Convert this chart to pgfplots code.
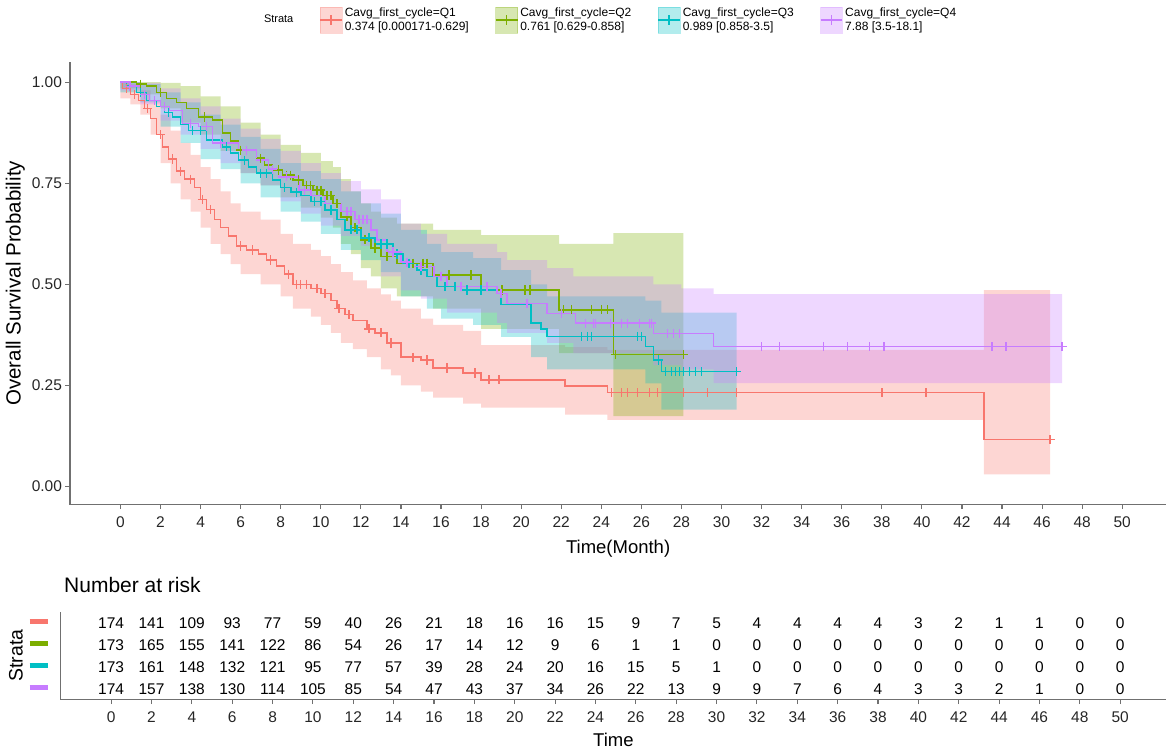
\documentclass[border=0pt]{standalone}
\usepackage{pgfplots}
\pgfplotsset{compat=1.18}
\usepackage{pgfplotstable}
\usepgfplotslibrary{fillbetween}
\usepackage{fontspec}
\setmainfont{Liberation Sans}
\definecolor{q1}{HTML}{F8766D}
\definecolor{q2}{HTML}{7CAE00}
\definecolor{q3}{HTML}{00BFC4}
\definecolor{q4}{HTML}{C77CFF}
\definecolor{axgray}{HTML}{707070}

% survival curves (step starts at t)
\pgfplotstableread{
t s
0 1.0
0.1 0.985
0.5 0.97
0.9 0.955
1.2 0.935
1.5 0.91
1.8 0.87
2.1 0.84
2.4 0.81
2.8 0.78
3.2 0.76
3.7 0.74
4.0 0.71
4.3 0.685
4.7 0.66
5.0 0.64
5.4 0.62
5.8 0.595
6.3 0.585
6.9 0.575
7.3 0.56
7.8 0.545
8.2 0.525
8.6 0.50
9.5 0.49
10.0 0.478
10.5 0.46
10.8 0.44
11.2 0.425
11.6 0.41
12.3 0.39
12.7 0.38
13.3 0.355
14.0 0.32
15.0 0.313
15.6 0.293
17.1 0.281
18.0 0.264
22.2 0.248
24.3 0.232
43.1 0.116
46.4 0.116
}\curveA
\pgfplotstableread{
t s
0 1.0
0.8 0.995
1.3 0.99
1.8 0.975
2.3 0.96
2.8 0.95
3.3 0.935
3.9 0.914
4.6 0.906
5.1 0.874
5.5 0.855
5.9 0.832
6.8 0.812
7.2 0.795
7.6 0.783
8.1 0.77
8.6 0.758
9.1 0.745
9.6 0.733
10.1 0.72
10.6 0.70
11.0 0.667
11.5 0.64
12.0 0.61
12.5 0.59
13.0 0.569
13.8 0.552
15.6 0.523
18.0 0.486
21.9 0.437
24.6 0.326
28.1 0.326
}\curveB
\pgfplotstableread{
t s
0 1.0
0.3 0.99
0.8 0.975
1.3 0.955
1.8 0.94
2.2 0.925
2.6 0.914
3.0 0.895
3.4 0.88
4.3 0.857
5.1 0.84
5.5 0.825
5.9 0.807
6.4 0.79
6.8 0.775
7.6 0.758
8.0 0.74
8.5 0.728
9.0 0.72
9.5 0.705
10.2 0.684
10.8 0.66
11.2 0.635
12.0 0.615
12.7 0.60
13.6 0.575
14.1 0.552
14.8 0.535
15.3 0.52
15.8 0.495
17.0 0.486
19.0 0.45
20.5 0.405
21.0 0.39
21.3 0.371
26.2 0.346
26.6 0.313
27.0 0.284
30.75 0.284
}\curveC
\pgfplotstableread{
t s
0 1.0
0.5 0.99
1.0 0.97
1.45 0.955
2.0 0.94
2.45 0.93
3.1 0.898
3.9 0.89
4.6 0.849
5.9 0.832
6.8 0.807
7.4 0.785
7.9 0.766
8.9 0.733
9.5 0.72
10.2 0.70
11.0 0.68
11.7 0.66
12.5 0.635
12.8 0.61
13.3 0.58
14.0 0.555
14.6 0.544
15.65 0.52
16.3 0.495
18.8 0.478
19.3 0.453
21.3 0.428
22.7 0.404
26.6 0.378
29.6 0.346
47.0 0.346
}\curveD

% confidence bands: t upper lower
\pgfplotstableread{
t u l
0 1.00 0.96
0.5 0.995 0.945
1 0.98 0.92
1.5 0.955 0.87
2 0.92 0.80
2.5 0.88 0.75
3 0.85 0.71
3.5 0.82 0.68
4 0.79 0.64
4.5 0.76 0.60
5 0.73 0.575
5.5 0.70 0.55
6 0.68 0.525
7 0.66 0.50
8 0.625 0.47
8.6 0.60 0.44
9.5 0.585 0.42
10 0.57 0.40
10.5 0.55 0.38
11 0.53 0.355
11.6 0.51 0.34
12.3 0.49 0.32
13 0.475 0.29
13.5 0.46 0.275
14 0.44 0.25
15 0.415 0.235
15.6 0.40 0.22
17.1 0.385 0.205
18 0.35 0.195
22.2 0.345 0.178
24.3 0.338 0.165
43.1 0.486 0.03
46.4 0.486 0.03
}\bandA
\pgfplotstableread{
t u l
0 1.0 0.985
1 1.0 0.97
2 0.998 0.935
3 0.99 0.90
4 0.965 0.87
5 0.94 0.83
6 0.90 0.775
7 0.87 0.745
8 0.845 0.715
9 0.825 0.69
10 0.805 0.665
10.6 0.79 0.64
11 0.76 0.60
11.5 0.73 0.575
12 0.70 0.54
12.5 0.68 0.52
13 0.665 0.49
13.8 0.65 0.47
15.6 0.635 0.44
18 0.622 0.39
21.9 0.60 0.33
24.6 0.627 0.174
28.1 0.627 0.174
}\bandB
\pgfplotstableread{
t u l
0 1.0 0.975
1 0.995 0.95
2 0.975 0.89
3 0.95 0.85
4 0.92 0.81
5 0.895 0.785
6 0.865 0.75
7 0.835 0.715
8 0.80 0.68
9 0.78 0.655
10 0.76 0.625
11 0.73 0.585
12 0.70 0.56
13 0.675 0.53
14 0.635 0.47
15.3 0.60 0.44
16 0.58 0.415
17.6 0.565 0.40
19 0.535 0.37
20.5 0.50 0.32
21.3 0.47 0.29
26.2 0.46 0.255
27 0.43 0.19
30.75 0.43 0.19
}\bandC
\pgfplotstableread{
t u l
0 1.0 0.98
1 0.998 0.945
2 0.985 0.905
3 0.96 0.87
4 0.94 0.835
5 0.91 0.80
6 0.885 0.775
7 0.86 0.745
8 0.83 0.705
9 0.80 0.675
10 0.775 0.645
11 0.755 0.62
12 0.735 0.595
13 0.71 0.52
14 0.65 0.485
15 0.625 0.465
16.3 0.60 0.43
18.8 0.58 0.405
19.3 0.56 0.38
21.3 0.54 0.355
22.6 0.52 0.33
26.6 0.50 0.30
28 0.49 0.29
29.6 0.476 0.256
47 0.476 0.256
}\bandD

% number at risk
\pgfplotstableread{
t q1 q2 q3 q4
0 174 173 173 174
2 141 165 161 157
4 109 155 148 138
6 93 141 132 130
8 77 122 121 114
10 59 86 95 105
12 40 54 77 85
14 26 26 57 54
16 21 17 39 47
18 18 14 28 43
20 16 12 24 37
22 16 9 20 34
24 15 6 16 26
26 9 1 15 22
28 7 1 5 13
30 5 0 1 9
32 4 0 0 9
34 4 0 0 7
36 4 0 0 6
38 4 0 0 4
40 3 0 0 3
42 2 0 0 3
44 1 0 0 2
46 1 0 0 1
48 0 0 0 0
50 0 0 0 0
}\risk

\pgfplotsset{
  km axis/.style={
    axis x line*=bottom, axis y line*=left,
    axis line style={axgray, line width=1.4pt},
    tick align=outside, major tick length=4.5pt,
    tick style={axgray, line width=1.1pt},
    /pgf/number format/assume math mode=true,
    ticklabel style={text=black!85, font=\fontsize{15.5}{18}\selectfont},
    xticklabel style={yshift=-4pt},
    clip=false,
  },
  band/.style={const plot, draw=none, forget plot},
  curve/.style={const plot, line width=1.5pt, forget plot, #1},
  cens/.style={only marks, mark=+, mark size=4.6pt, forget plot, #1, mark options={line width=1.4pt}},
  key/.style={legend image code/.code={
    \fill[#1, opacity=0.3] (0pt,-13pt) rectangle (22pt,13pt);
    \draw[#1, line width=1.5pt] (0pt,0pt) -- (22pt,0pt) (11pt,-5pt) -- (11pt,5pt);}},
}

\begin{document}
\begin{tikzpicture}

\begin{axis}[
  km axis,
  at={(70pt,-505pt)}, anchor=south west,
  scale only axis, width=1097pt, height=443pt,
  xmin=-2.52, xmax=52.2, ymin=-0.045, ymax=1.05,
  xtick={0,2,...,50},
  ytick={0,0.25,0.5,0.75,1},
  yticklabels={0.00,0.25,0.50,0.75,1.00},
  xlabel={Time(Month)},
  ylabel={Overall Survival Probability},
  xlabel style={font=\fontsize{18.5}{22}\selectfont, yshift=-6pt},
  ylabel style={font=\fontsize{20.5}{22}\selectfont},
  legend columns=5,
  legend style={at={(0.175,1.095)}, anchor=west, draw=none, fill=none,
    inner sep=0pt, font=\fontsize{12}{15}\selectfont,
    cells={align=left},
    /tikz/every even column/.append style={column sep=24pt}},
]
% confidence bands
\addplot[band, name path=au] table[x=t, y=u] {\bandA};
\addplot[band, name path=al] table[x=t, y=l] {\bandA};
\addplot[band, name path=bu] table[x=t, y=u] {\bandB};
\addplot[band, name path=bl] table[x=t, y=l] {\bandB};
\addplot[band, name path=cu] table[x=t, y=u] {\bandC};
\addplot[band, name path=cl] table[x=t, y=l] {\bandC};
\addplot[band, name path=du] table[x=t, y=u] {\bandD};
\addplot[band, name path=dl] table[x=t, y=l] {\bandD};
\addplot[fill=q1, fill opacity=0.3, draw=none, forget plot] fill between[of=au and al];
\addplot[fill=q2, fill opacity=0.3, draw=none, forget plot] fill between[of=bu and bl];
\addplot[fill=q3, fill opacity=0.3, draw=none, forget plot] fill between[of=cu and cl];
\addplot[fill=q4, fill opacity=0.3, draw=none, forget plot] fill between[of=du and dl];
% curves
\addplot[curve=q1] table[x=t, y=s] {\curveA};
\addplot[curve=q2] table[x=t, y=s] {\curveB};
\addplot[curve=q3] table[x=t, y=s] {\curveC};
\addplot[curve=q4] table[x=t, y=s] {\curveD};
% censoring marks
\addplot[cens=q1] coordinates {(0.3,0.985) (0.7,0.97) (1.35,0.935) (2.0,0.87) (2.6,0.81)
 (3.0,0.78) (3.5,0.76) (4.1,0.71) (4.5,0.685) (6.0,0.595) (6.6,0.585) (7.5,0.56)
 (8.4,0.525) (8.8,0.50) (9.0,0.50) (9.3,0.50) (9.8,0.49) (10.2,0.478) (10.9,0.44)
 (11.4,0.425) (12.4,0.39) (13.0,0.38) (13.5,0.355) (14.6,0.32) (15.3,0.313) (16.3,0.293)
 (17.7,0.281) (18.4,0.264) (18.9,0.264) (24.5,0.232) (25.0,0.232) (25.3,0.232)
 (25.8,0.232) (26.4,0.232) (26.8,0.232) (28.1,0.232) (29.3,0.232) (30.75,0.232)
 (38.0,0.232) (40.2,0.232) (46.4,0.116)};
\addplot[cens=q2] coordinates {(1.0,0.995) (2.0,0.975) (4.2,0.914) (6.0,0.832) (7.0,0.812)
 (7.9,0.783) (8.3,0.77) (8.5,0.77) (8.9,0.758) (9.3,0.745) (9.5,0.745) (9.8,0.733)
 (10.0,0.733) (10.3,0.72) (10.5,0.72) (10.8,0.70) (11.3,0.667) (11.7,0.64) (12.2,0.61)
 (12.7,0.59) (13.3,0.569) (14.6,0.552) (15.1,0.552) (15.3,0.552) (16.4,0.523)
 (17.5,0.523) (19.05,0.486) (20.2,0.486) (20.45,0.486) (22.1,0.437) (22.5,0.437)
 (23.5,0.437) (24.0,0.437) (24.3,0.437) (24.7,0.326) (28.1,0.326)};
\addplot[cens=q3] coordinates {(1.0,0.975) (2.4,0.925) (3.6,0.88) (4.0,0.88) (5.3,0.84)
 (6.2,0.807) (7.0,0.775) (7.3,0.775) (8.2,0.74) (8.8,0.728) (9.7,0.705) (10.0,0.705)
 (10.5,0.684) (11.5,0.635) (11.8,0.635) (12.4,0.615) (13.0,0.60) (13.3,0.60)
 (13.8,0.575) (14.4,0.552) (15.0,0.535) (16.2,0.495) (16.7,0.495) (17.3,0.486)
 (18.0,0.486) (23.0,0.371) (23.3,0.371) (23.5,0.371) (25.8,0.371) (26.0,0.371)
 (26.85,0.313) (27.2,0.284) (27.5,0.284) (27.7,0.284) (27.9,0.284) (28.1,0.284)
 (28.4,0.284) (28.7,0.284) (29.0,0.284) (30.75,0.284)};
\addplot[cens=q4] coordinates {(0.45,0.99) (1.2,0.97) (1.7,0.955) (2.2,0.94) (3.5,0.898)
 (4.3,0.89) (5.0,0.849) (6.3,0.832) (7.6,0.785) (8.3,0.766) (9.2,0.733) (11.3,0.68)
 (11.5,0.68) (11.9,0.66) (12.1,0.66) (12.3,0.66) (13.6,0.58) (14.3,0.555) (15.0,0.544)
 (16.0,0.52) (17.0,0.495) (18.3,0.495) (19.0,0.478) (20.3,0.453) (22.0,0.428)
 (23.2,0.404) (23.6,0.404) (23.7,0.404) (24.45,0.404) (25.0,0.404) (25.3,0.404)
 (25.9,0.404) (26.4,0.404) (26.5,0.404) (27.3,0.378) (27.6,0.378) (27.9,0.378)
 (32.0,0.346) (32.9,0.346) (35.1,0.346) (36.3,0.346) (37.4,0.346) (38.1,0.346)
 (43.5,0.346) (44.2,0.346) (47.0,0.346)};
% legend
\addlegendimage{empty legend}
\addlegendentry{\fontsize{11}{13}\selectfont Strata}
\addlegendimage{key=q1}
\addlegendentry{Cavg\_first\_cycle=Q1\\0.374 [0.000171-0.629]}
\addlegendimage{key=q2}
\addlegendentry{Cavg\_first\_cycle=Q2\\0.761 [0.629-0.858]}
\addlegendimage{key=q3}
\addlegendentry{Cavg\_first\_cycle=Q3\\0.989 [0.858-3.5]}
\addlegendimage{key=q4}
\addlegendentry{Cavg\_first\_cycle=Q4\\7.88 [3.5-18.1]}
\end{axis}

% risk table
\begin{axis}[
  km axis,
  at={(60.7pt,-700pt)}, anchor=south west,
  scale only axis, width=1106pt, height=88pt,
  xmin=-2.5, xmax=52.27, ymin=0.5, ymax=4.5,
  xtick={0,2,...,50},
  ytick={1,2,3,4},
  yticklabels={\textcolor{q4}{\rule[2pt]{18pt}{5pt}},\textcolor{q3}{\rule[2pt]{18pt}{5pt}},
    \textcolor{q2}{\rule[2pt]{18pt}{5pt}},\textcolor{q1}{\rule[2pt]{18pt}{5pt}}},
  ytick style={draw=none},
  yticklabel style={xshift=-5pt},
  xlabel={Time},
  ylabel={Strata},
  xlabel style={font=\fontsize{18.5}{22}\selectfont, yshift=-4pt},
  ylabel style={font=\fontsize{19.5}{22}\selectfont},
  title={Number at risk},
  title style={at={(0,1)}, anchor=west, yshift=21pt,
    font=\fontsize{21}{24}\selectfont},
  nodes near coords,
  point meta=explicit symbolic,
  every node near coord/.append style={anchor=base, yshift=-5.6pt, text=black,
    font=\fontsize{15.5}{18}\selectfont},
]
\addplot[only marks, mark=none] table[x=t, y expr=4, meta=q1] {\risk};
\addplot[only marks, mark=none] table[x=t, y expr=3, meta=q2] {\risk};
\addplot[only marks, mark=none] table[x=t, y expr=2, meta=q3] {\risk};
\addplot[only marks, mark=none] table[x=t, y expr=1, meta=q4] {\risk};
\end{axis}
\useasboundingbox (0pt,0pt) rectangle (1167pt,-748pt);
\end{tikzpicture}
\end{document}
